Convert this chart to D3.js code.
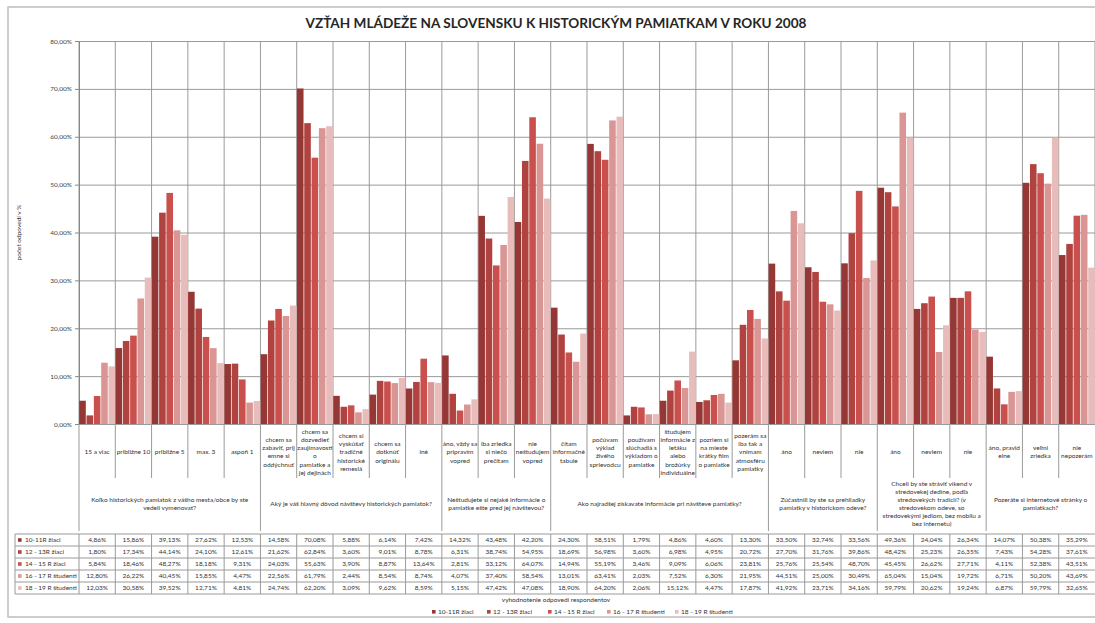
<!DOCTYPE html>
<html><head><meta charset="utf-8">
<script src="https://cdn.jsdelivr.net/npm/d3@7"></script>
<style>
body{margin:0;background:#fff}
svg{display:block}
text{font-family:Lato,"Open Sans",sans-serif;fill:#333}
</style>
</head><body>
<svg id="c" width="1095" height="623"></svg>
<script>
const title = "VZŤAH MLÁDEŽE NA SLOVENSKU K HISTORICKÝM PAMIATKAM V ROKU 2008";
const yTitle = "počet odpovedí v %";
const xTitle = "vyhodnotenie odpovedí respondentov";
const categories = [
  "15 a viac","približne 10","približne 5","max. 3","aspoň 1",
  "chcem sa\nzabaviť, prij\nemne si\noddýchnuť","chcem sa\ndozvedieť\nzaujímavosti\no\npamiatke a\njej dejinách","chcem si\nvyskúšať\ntradičné\nhistorické\nremeslá","chcem sa\ndotknúť\noriginálu","iné",
  "áno, vždy sa\npripravím\nvopred","iba zriedka\nsi niečo\nprečítam","nie\nneštudujem\nvopred",
  "čítam\ninformačné\ntabule","počúvam\nvýklad\nživého\nsprievodcu","používam\nslúchadlá s\nvýkladom o\npamiatke","študujem\ninformácie z\nletáku\nalebo\nbrožúrky\nindividuálne","pozriem si\nna mieste\nkrátky film\no pamiatke","pozerám sa\niba tak a\nvnímam\natmosféru\npamiatky",
  "áno","neviem","nie",
  "áno","neviem","nie",
  "áno, pravid\nelne","veľmi\nzriedka","nie\nnepozerám"
];
const groupLabels = [
  "Koľko historických pamiatok z vášho mesta/obce by ste\nvedeli vymenovať?",
  "Aký je váš hlavný dôvod návštevy historických pamiatok?",
  "Neštudujete si nejaké informácie o\npamiatke ešte pred jej návštevou?",
  "Ako najradšej získavate informácie pri návšteve pamiatky?",
  "Zúčastnili by ste sa prehliadky\npamiatky v historickom odeve?",
  "Chceli by ste stráviť víkend v\nstredovekej dedine, podľa\nstredovekých tradícií? (v\nstredovekom odeve, so\nstredovekými jedlom, bez mobilu a\nbez internetu)",
  "Pozeráte si internetové stránky o\npamiatkach?"
];
const groupSizes = [5,5,3,6,3,3,3];
const seriesNames = ["10-11R žiaci","12 - 13R žiaci","14 - 15 R žiaci","16 - 17 R študenti","18 - 19 R študenti"];
const seriesColors = ["#953735","#b0423f","#c9504d","#d99694","#e8bcbb"];
const s1 = [4.86,15.86,39.13,27.62,12.53, 14.58,70.08,5.88,6.14,7.42, 14.32,43.48,42.20, 24.30,58.51,1.79,4.86,4.60,13.30, 33.50,32.74,33.56, 49.36,24.04,26.34, 14.07,50.38,35.29];
const s2 = [1.80,17.34,44.14,24.10,12.61, 21.62,62.84,3.60,9.01,8.78, 6.31,38.74,54.95, 18.69,56.98,3.60,6.98,4.95,20.72, 27.70,31.76,39.86, 48.42,25.23,26.35, 7.43,54.28,37.61];
const s3 = [5.84,18.46,48.27,18.18,9.31, 24.03,55.63,3.90,8.87,13.64, 2.81,33.12,64.07, 14.94,55.19,3.46,9.09,6.06,23.81, 25.76,25.54,48.70, 45.45,26.62,27.71, 4.11,52.38,43.51];
const s4 = [12.80,26.22,40.45,15.85,4.47, 22.56,61.79,2.44,8.54,8.74, 4.07,37.40,58.54, 13.01,63.41,2.03,7.52,6.30,21.95, 44.51,25.00,30.49, 65.04,15.04,19.72, 6.71,50.20,43.69];
const s5 = [12.03,30.58,39.52,12.71,4.81, 24.74,62.20,3.09,9.62,8.59, 5.15,47.42,47.08, 18.90,64.20,2.06,15.12,4.47,17.87, 41.92,23.71,34.16, 59.79,20.62,19.24, 6.87,59.79,32.65];
const series = [s1,s2,s3,s4,s5];
const yTicks = [0,10,20,30,40,50,60,70,80];

const W = 1095, H = 623;
const L = 79, R = 1095, T = 41, B = 424;
const svg = d3.select("#c");
const loc = d3.formatLocale({decimal:",",thousands:" ",grouping:[3],currency:["","€"]});
const f2 = loc.format(".2f");
const pct = d => f2(d) + "%";

// outer border
svg.append("rect").attr("x",8).attr("y",7).attr("width",W+10).attr("height",610)
  .attr("fill","none").attr("stroke","#bdbdbd").attr("stroke-width",1.5);

svg.append("text").attr("x",556).attr("y",28).attr("text-anchor","middle")
  .style("font-weight","bold").style("font-size","13.6px").style("fill","#262626").text(title);

const x = d3.scaleBand().domain(d3.range(categories.length)).range([L,R]).padding(0);
const xs = d3.scaleBand().domain(d3.range(series.length)).range([0,x.bandwidth()]).paddingInner(0.1).paddingOuter(0.03);
const y = d3.scaleLinear().domain([0,80]).range([B,T]);

// horizontal gridlines
const gy = svg.append("g").attr("transform",`translate(${L},0)`)
  .call(d3.axisLeft(y).tickValues(yTicks).tickSize(-(R-L)).tickFormat(""));
gy.select(".domain").remove();
gy.selectAll("line").attr("stroke","#9a9a9a");
// vertical gridlines
svg.append("g").selectAll("line").data(d3.range(categories.length+1)).join("line")
  .attr("x1",i=>i<categories.length?x(i):R).attr("x2",i=>i<categories.length?x(i):R)
  .attr("y1",T).attr("y2",B).attr("stroke","#9a9a9a");

// y axis
const ya = svg.append("g").attr("transform",`translate(${L},0)`)
  .call(d3.axisLeft(y).tickValues(yTicks).tickSize(4).tickPadding(3).tickFormat(pct));
ya.select(".domain").attr("stroke","#888");
ya.selectAll("line").attr("stroke","#888");
ya.selectAll("text").style("font-size","6.5px").style("fill","#444").style("font-family","Lato,sans-serif");

svg.append("text").attr("transform",`translate(21,${(T+B)/2}) rotate(-90)`)
  .attr("text-anchor","middle").style("font-size","6.5px").text(yTitle);

// bars
const bars = svg.append("g");
series.forEach((s,si)=>{
  bars.append("g").selectAll("rect").data(s).join("rect")
    .attr("x",(d,i)=>x(i)+xs(si)).attr("width",xs.bandwidth())
    .attr("y",d=>y(d)).attr("height",d=>B-y(d)).attr("fill",seriesColors[si]);
});

// category label area
const catBottom = 478, grpBottom = 531;
const bounds = [0]; groupSizes.forEach(n=>bounds.push(bounds[bounds.length-1]+n));
const isGroupB = i => bounds.includes(i);
svg.append("g").selectAll("line").data(d3.range(categories.length)).join("line")
  .attr("x1",i=>x(i)).attr("x2",i=>x(i)).attr("y1",B)
  .attr("y2",i=>isGroupB(i)?grpBottom:catBottom).attr("stroke","#9a9a9a");

function multiline(g, str, cx, cy, lh){
  const lines = str.split("\n");
  const t = g.append("text").attr("text-anchor","middle").style("font-size","6.5px");
  lines.forEach((ln,k)=>{
    t.append("tspan").attr("x",cx).attr("y",cy + (k-(lines.length-1)/2)*lh + 2.3).text(ln);
  });
}
const labG = svg.append("g");
categories.forEach((c,i)=>multiline(labG,c,x(i)+x.bandwidth()/2,452,8.3));
groupLabels.forEach((g,gi)=>{
  const x0 = x(bounds[gi]), x1 = bounds[gi+1]<categories.length?x(bounds[gi+1]):R;
  multiline(labG,g,(x0+x1)/2,504,8);
});

// data table
const tTop = 534, rh = 12, tLeft = 15;
const tb = svg.append("g");
series.forEach((s,si)=>{
  const ry = tTop + si*rh;
  tb.append("rect").attr("x",tLeft+3).attr("y",ry+rh/2-1.8).attr("width",3.6).attr("height",3.6).attr("fill",seriesColors[si]);
  tb.append("text").attr("x",tLeft+10).attr("y",ry+rh/2+2.3).style("font-size","6.5px").text(seriesNames[si]);
  tb.append("g").selectAll("text").data(s).join("text")
    .attr("x",(d,i)=>x(i)+x.bandwidth()/2).attr("y",ry+rh/2+2.3)
    .attr("text-anchor","middle").style("font-size","6.5px").text(d=>pct(d));
});
tb.append("g").selectAll("line").data(d3.range(series.length+1)).join("line")
  .attr("x1",tLeft).attr("x2",R).attr("y1",i=>tTop+i*rh).attr("y2",i=>tTop+i*rh).attr("stroke","#9a9a9a");
tb.append("g").selectAll("line").data([tLeft].concat(d3.range(categories.length).map(i=>x(i)))).join("line")
  .attr("x1",d=>d).attr("x2",d=>d).attr("y1",tTop).attr("y2",tTop+series.length*rh).attr("stroke","#9a9a9a");

svg.append("text").attr("x",556).attr("y",602).attr("text-anchor","middle").style("font-size","6.5px").text(xTitle);

// legend
const legX = [432,487,548,607,675];
const lg = svg.append("g");
seriesNames.forEach((n,i)=>{
  lg.append("rect").attr("x",legX[i]).attr("y",610).attr("width",3.6).attr("height",3.6).attr("fill",seriesColors[i]);
  lg.append("text").attr("x",legX[i]+6).attr("y",614.3).style("font-size","6.5px").text(n);
});
</script>
</body></html>
